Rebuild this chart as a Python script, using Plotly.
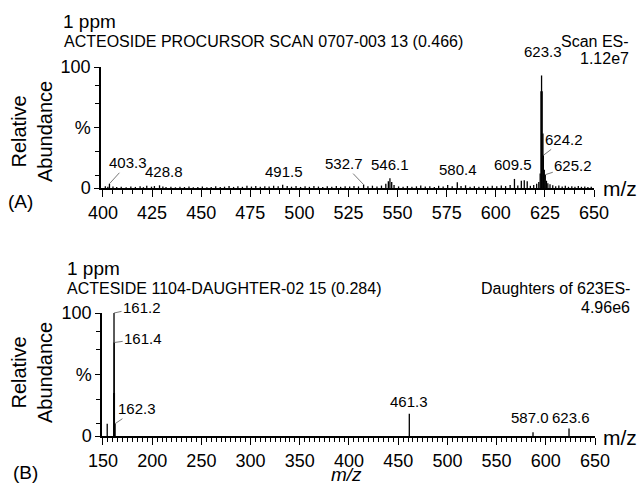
import plotly.graph_objects as go

# ---------------- DATA ----------------
# Panel A: precursor scan (m/z, relative abundance %)
mz_a = [401.2, 402.5, 403.3, 405.1, 407.0, 409.3, 411.8, 414.2, 416.5, 418.9, 420.6, 422.3,
        424.7, 426.2, 428.8, 430.5, 432.1, 434.6, 436.9, 439.2, 441.5, 443.8, 446.0, 448.3,
        450.6, 452.9, 455.1, 457.4, 459.7, 461.9, 464.2, 466.5, 468.7, 471.0, 473.3, 475.6,
        477.8, 480.1, 482.4, 484.6, 486.9, 489.2, 491.5, 493.8, 496.0, 498.3, 500.6, 502.9,
        505.1, 507.4, 509.7, 511.9, 514.2, 516.5, 518.8, 521.0, 523.3, 525.6, 527.8, 530.1,
        532.7, 534.9, 537.2, 539.5, 541.8, 544.0, 545.3, 546.1, 547.0, 548.2, 550.5, 552.8,
        555.0, 557.3, 559.6, 561.8, 564.1, 566.4, 568.7, 570.9, 573.2, 575.5, 577.8, 580.4,
        582.3, 584.6, 586.9, 589.1, 591.4, 593.7, 595.9, 598.2, 600.5, 602.8, 605.0, 607.3,
        609.5, 611.2, 613.0, 614.5, 616.0, 617.6, 619.3, 620.8, 621.9, 622.6, 623.0, 623.3,
        623.6, 624.0, 624.2, 624.7, 625.2, 625.8, 626.5, 627.6, 629.0, 630.5, 632.1, 633.8,
        635.4, 637.0, 638.7, 640.3, 642.0, 643.6, 645.3, 646.9, 648.6]
int_a = [1.5, 1.0, 3.5, 1.2, 0.8, 1.0, 0.6, 1.2, 0.9, 1.5, 0.7, 1.8,
         1.1, 1.6, 2.2, 1.3, 0.8, 1.0, 0.6, 1.1, 0.8, 1.3, 0.7, 0.9,
         1.2, 0.6, 0.9, 1.4, 0.8, 1.1, 1.6, 0.9, 1.4, 1.0, 1.9, 1.2,
         1.7, 1.0, 1.5, 1.3, 1.8, 1.4, 2.6, 1.6, 1.1, 1.7, 0.9, 1.4,
         1.0, 1.6, 1.2, 0.9, 1.5, 1.1, 1.7, 1.0, 1.4, 1.2, 1.6, 1.3,
         2.8, 1.4, 1.9, 1.2, 2.0, 3.5, 5.5, 8.0, 5.0, 2.5, 1.3, 1.1,
         1.6, 1.0, 1.4, 2.0, 1.2, 1.5, 0.9, 1.8, 1.3, 2.5, 1.4, 4.8,
         1.6, 2.2, 1.1, 1.5, 1.0, 1.7, 1.3, 1.9, 1.4, 2.1, 1.6, 2.4,
         7.5, 2.0, 6.0, 6.5, 5.5, 1.8, 2.5, 3.5, 5.0, 12.0, 80.0, 93.0,
         80.0, 45.0, 27.0, 15.0, 11.0, 6.0, 4.0, 3.0, 2.2, 1.5, 2.0, 1.2,
         1.8, 1.0, 1.5, 1.1, 1.6, 1.0, 1.3, 0.9, 1.1]

# Panel B: daughter scan of 623
mz_b = [154.3, 161.0, 161.2, 161.4, 161.6, 162.3, 461.3, 587.0, 623.6]
int_b = [10.0, 35.0, 100.0, 76.0, 35.0, 10.0, 18.0, 3.0, 6.0]

# Peak labels (m/z, intensity, text)
lab_a = [(403.3, 3.5, "403.3"), (428.8, 2.2, "428.8"), (491.5, 2.6, "491.5"),
         (532.7, 2.8, "532.7"), (546.1, 8.0, "546.1"), (580.4, 4.8, "580.4"),
         (609.5, 7.5, "609.5"), (623.3, 93.0, "623.3"), (624.2, 27.0, "624.2"),
         (625.2, 11.0, "625.2")]
lab_b = [(161.2, 100.0, "161.2"), (161.4, 76.0, "161.4"), (162.3, 10.0, "162.3"),
         (461.3, 18.0, "461.3"), (587.0, 3.0, "587.0"), (623.6, 6.0, "623.6")]

xticks_a = [400, 425, 450, 475, 500, 525, 550, 575, 600, 625, 650]
xticks_b = [150, 200, 250, 300, 350, 400, 450, 500, 550, 600, 650]

# ---------------- STYLE / LAYOUT ----------------
W, H = 637, 484
FONT = "Arial, Liberation Sans, sans-serif"


def sticks(xs, ys):
    X, Y = [], []
    for x, y in zip(xs, ys):
        X += [x, x, None]
        Y += [0, y, None]
    return X, Y


def px(x):
    return x / W


def py(y):
    return 1 - y / H


fig = go.Figure()
xa, ya = sticks(mz_a, int_a)
xb, yb = sticks(mz_b, int_b)
fig.add_trace(go.Scatter(x=xa, y=ya, mode="lines", line=dict(color="black", width=1.3),
                         xaxis="x", yaxis="y", hoverinfo="skip", showlegend=False))
fig.add_trace(go.Scatter(x=xb, y=yb, mode="lines", line=dict(color="black", width=1.3),
                         xaxis="x2", yaxis="y2", hoverinfo="skip", showlegend=False))

tickfont = dict(family=FONT, size=18, color="black")


def xaxis_cfg(domain, rng, tickvals, anchor, minor_dt):
    return dict(domain=domain, range=rng, anchor=anchor, showgrid=False, zeroline=False,
                automargin=False,
                showline=True, linecolor="black", linewidth=2,
                tickmode="array", tickvals=tickvals, ticks="outside", ticklen=7,
                tickwidth=1, tickcolor="black", tickfont=tickfont,
                minor=dict(dtick=minor_dt, tick0=0, ticks="outside", ticklen=4,
                           tickwidth=1, tickcolor="black", showgrid=False))


def yaxis_cfg(domain, anchor):
    return dict(domain=domain, range=[0, 100], anchor=anchor, showgrid=False, zeroline=False,
                automargin=False,
                showline=True, linecolor="black", linewidth=1.5,
                tickmode="array", tickvals=[0, 50, 100], ticktext=["0", "%", "100"],
                ticks="outside", ticklen=5, tickwidth=1, tickcolor="black",
                tickfont=tickfont,
                minor=dict(tickmode="array", tickvals=[10, 30, 70, 85], ticks="outside",
                           ticklen=4, tickwidth=1, tickcolor="black", showgrid=False))


fig.update_layout(
    width=W, height=H, margin=dict(l=0, r=0, t=0, b=0, autoexpand=False),
    paper_bgcolor="white", plot_bgcolor="white",
    xaxis=xaxis_cfg([101 / W, 594 / W], [399, 650], xticks_a, "y", 5),
    yaxis=yaxis_cfg([py(188), py(67)], "x"),
    xaxis2=xaxis_cfg([102 / W, 595 / W], [149, 650], xticks_b, "y2", 5),
    yaxis2=yaxis_cfg([py(436), py(313)], "x2"),
)

ann = []
lf = dict(family=FONT, size=15, color="black")

# Panel A peak label placement (pixel offsets)
off_a = {"403.3": ("arrow", 19, -21), "428.8": ("up", 4, 3), "491.5": ("up", 1, 3),
         "532.7": ("arrow", -20, -21), "546.1": ("up", 0, 3), "580.4": ("up", 1, 2),
         "609.5": ("up", -1, 4), "623.3": ("up", 1, 13), "624.2": ("arrow", 21, -16),
         "625.2": ("arrow", 28, -9)}
off_b = {"161.2": ("arrow", 28, -6), "161.4": ("arrow", 29, -4), "162.3": ("arrow", 22, -15),
         "461.3": ("up", 0, 2), "587.0": ("up", -3, 4), "623.6": ("up", 2, 1)}


def add_labels(labs, offs, xr, yr):
    for mz, h, t in labs:
        kind, dx, dy = offs[t]
        if kind == "arrow":
            ann.append(dict(x=mz, y=h, xref=xr, yref=yr, text=t, showarrow=True,
                            ax=dx, ay=dy, arrowhead=0, arrowwidth=0.8, arrowcolor="#555",
                            standoff=0, startstandoff=0, font=lf))
        else:
            ann.append(dict(x=mz, y=h, xref=xr, yref=yr, text=t, showarrow=False,
                            xanchor="center", yanchor="bottom", xshift=dx, yshift=dy,
                            font=lf))


add_labels(lab_a, off_a, "x", "y")
add_labels(lab_b, off_b, "x2", "y2")


def ptext(x, y, t, size, xanchor="left", angle=0, italic=False):
    ann.append(dict(x=px(x), y=py(y), xref="paper", yref="paper", text=t, showarrow=False,
                    xanchor=xanchor, yanchor="middle", textangle=angle,
                    font=dict(family=FONT, size=size, color="black",
                              style="italic" if italic else "normal")))


# Panel A texts
ptext(61, 22, "1 ppm", 19)
ptext(62, 41, "ACTEOSIDE PROCURSOR SCAN 0707-003 13 (0.466)", 16)
ptext(631, 41, "Scan ES-", 16, xanchor="right")
ptext(631, 59, "1.12e7", 16, xanchor="right")
ptext(601, 188, "m/z", 21)
ptext(32, 132, "Relative<br>Abundance", 20, xanchor="center", angle=-90)
ptext(6, 201, "(A)", 19)

# Panel B texts
ptext(65, 268, "1 ppm", 19)
ptext(65, 288, "ACTESIDE 1104-DAUGHTER-02 15 (0.284)", 16)
ptext(632, 288, "Daughters of 623ES-", 16, xanchor="right")
ptext(632, 307, "4.96e6", 16, xanchor="right")
ptext(601, 437, "m/z", 21)
ptext(346, 474, "m/z", 19, xanchor="center", italic=True)
ptext(32, 373, "Relative<br>Abundance", 20, xanchor="center", angle=-90)
ptext(11, 472, "(B)", 19)

fig.update_layout(annotations=ann)
fig.write_html("out.html", config={"displayModeBar": False},
               post_script="document.body.style.margin='0';document.body.style.overflow='hidden';")
